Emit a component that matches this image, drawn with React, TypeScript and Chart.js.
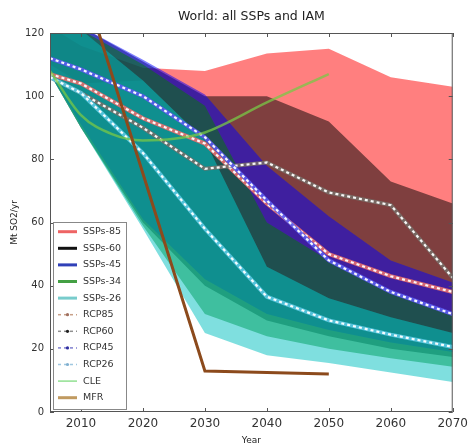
import React, { useEffect, useRef } from "react";
import { Chart, registerables } from "chart.js";

Chart.register(...registerables);

// Sample years shared by the SSP envelopes and RCP pathways
const years = [2005, 2010, 2020, 2030, 2040, 2050, 2060, 2070];
const xTicks = [2010, 2020, 2030, 2040, 2050, 2060, 2070];
const yTicks = [0, 20, 40, 60, 80, 100, 120];

// SSP envelopes (min / max across scenarios), Mt SO2/yr
const ssp85Low = [110, 104, 105, 86, 46, 36, 30, 25];
const ssp85High = [122, 116, 109, 108, 113.5, 115, 106, 103];
const ssp60Low = [107, 90, 60, 40, 29, 24, 20, 17.4];
const ssp60High = [125, 122, 111, 100, 100, 92, 73, 66];
const ssp45Low = [107, 91, 61, 42, 31, 26, 22, 19];
const ssp45High = [125, 122, 111.5, 100.5, 78, 62, 48, 41];
const ssp34Low = [107, 90, 59, 31, 24, 20, 17, 14.3];
const ssp34High = [125, 121, 110, 97, 60, 48, 38, 31];
const ssp26Low = [107, 90, 58, 25, 18, 15.5, 12.5, 9.5];
const ssp26High = [125, 121, 105, 86, 46, 36, 30, 25];

// RCP pathways
const rcp85 = [107, 104, 93, 85, 66, 50, 43, 38];
const rcp60 = [106, 101, 90, 77, 79, 69.5, 65.5, 42.5];
const rcp45 = [112, 108.5, 100, 87, 67, 48, 38, 31];
const rcp26 = [106, 101, 82, 58, 36.5, 29, 24.5, 20.6];

// IAM scenarios
const cleYears = [2005, 2010, 2015, 2020, 2025, 2030, 2040, 2050];
const cle = [108, 94, 88, 86, 86.5, 88.5, 98, 107];
const mfrYears = [2010, 2030, 2040, 2050];
const mfr = [138, 13, 12.5, 12];

const legendLabels = [
  "SSPs-85",
  "SSPs-60",
  "SSPs-45",
  "SSPs-34",
  "SSPs-26",
  "RCP85",
  "RCP60",
  "RCP45",
  "RCP26",
  "CLE",
  "MFR",
];

const FONT = '"DejaVu Sans", "Liberation Sans", sans-serif';

const pts = (xs: number[], ys: number[]) => xs.map((x, i) => ({ x, y: ys[i] }));

type LegendStyle = { color: string; width: number; dash?: number[]; dot?: string };
const legendStyles: LegendStyle[] = [
  { color: "#ee6464", width: 3 },
  { color: "#111111", width: 3 },
  { color: "#3040b8", width: 3 },
  { color: "#44a044", width: 3 },
  { color: "#78cccc", width: 3 },
  { color: "#c8a088", width: 1.5, dash: [3, 3], dot: "#a07060" },
  { color: "#909090", width: 1.5, dash: [3, 3], dot: "#202020" },
  { color: "#8080d0", width: 1.5, dash: [3, 3], dot: "#3030a0" },
  { color: "#a0c8e0", width: 1.5, dash: [3, 3], dot: "#80b0d0" },
  { color: "#90e090", width: 1.5 },
  { color: "#c09a60", width: 3 },
];

const decorations = {
  id: "decorations",
  afterDraw(chart: any) {
    const { ctx, chartArea: a, scales } = chart;
    ctx.save();

    // axes frame
    ctx.strokeStyle = "#555";
    ctx.lineWidth = 1;
    ctx.strokeRect(a.left + 0.5, a.top + 0.5, a.right - a.left - 1, a.bottom - a.top - 1);

    // inward tick marks on all four sides
    ctx.beginPath();
    xTicks.forEach((v) => {
      const px = Math.round(scales.x.getPixelForValue(v)) + 0.5;
      ctx.moveTo(px, a.bottom);
      ctx.lineTo(px, a.bottom - 4);
      ctx.moveTo(px, a.top);
      ctx.lineTo(px, a.top + 4);
    });
    yTicks.forEach((v) => {
      const py = Math.round(scales.y.getPixelForValue(v)) + 0.5;
      ctx.moveTo(a.left, py);
      ctx.lineTo(a.left + 4, py);
      ctx.moveTo(a.right, py);
      ctx.lineTo(a.right - 4, py);
    });
    ctx.stroke();

    // title and axis titles
    const cx = (a.left + a.right) / 2;
    ctx.fillStyle = "#222";
    ctx.textAlign = "center";
    ctx.textBaseline = "middle";
    ctx.font = `12.5px ${FONT}`;
    ctx.fillText("World: all SSPs and IAM", cx, 17);
    ctx.font = `9px ${FONT}`;
    ctx.fillText("Year", cx, 441);
    ctx.save();
    ctx.translate(15, (a.top + a.bottom) / 2);
    ctx.rotate(-Math.PI / 2);
    ctx.fillText("Mt SO2/yr", 0, 0);
    ctx.restore();

    // legend
    const lx = 53.5;
    const ly = 222.5;
    const lw = 73;
    const lh = 187;
    ctx.fillStyle = "#fff";
    ctx.fillRect(lx, ly, lw, lh);
    ctx.strokeStyle = "#888";
    ctx.lineWidth = 1;
    ctx.strokeRect(lx, ly, lw, lh);
    ctx.textAlign = "left";
    ctx.font = `9.5px ${FONT}`;
    legendLabels.forEach((label, i) => {
      const y = 231.7 + i * 16.6;
      const st = legendStyles[i];
      ctx.save();
      ctx.strokeStyle = st.color;
      ctx.lineWidth = st.width;
      ctx.setLineDash(st.dash || []);
      ctx.beginPath();
      ctx.moveTo(58, y);
      ctx.lineTo(77, y);
      ctx.stroke();
      if (st.dot) {
        ctx.fillStyle = st.dot;
        ctx.beginPath();
        ctx.arc(67.5, y, 1.6, 0, Math.PI * 2);
        ctx.fill();
      }
      ctx.restore();
      ctx.fillStyle = "#333";
      ctx.fillText(label, 83, y);
    });

    ctx.restore();
  },
};

export default function App() {
  const ref = useRef<HTMLCanvasElement>(null);

  useEffect(() => {
    const datasets: any[] = [];

    const addBand = (label: string, low: number[], high: number[], fill: string, order: number) => {
      const lowIndex = datasets.length;
      datasets.push({
        label: label + " min",
        data: pts(years, low),
        borderWidth: 0,
        borderColor: "rgba(0,0,0,0)",
        pointRadius: 0,
        fill: false,
        order,
        clip: 0,
      });
      datasets.push({
        label,
        data: pts(years, high),
        borderWidth: 0,
        borderColor: "rgba(0,0,0,0)",
        backgroundColor: fill,
        pointRadius: 0,
        fill: { target: lowIndex },
        order,
        clip: 0,
      });
    };

    addBand("SSPs-85", ssp85Low, ssp85High, "rgba(255,0,0,0.5)", 100);
    addBand("SSPs-60", ssp60Low, ssp60High, "rgba(0,0,0,0.5)", 90);
    addBand("SSPs-45", ssp45Low, ssp45High, "rgba(0,0,255,0.5)", 80);
    addBand("SSPs-34", ssp34Low, ssp34High, "rgba(0,128,0,0.5)", 70);
    addBand("SSPs-26", ssp26Low, ssp26High, "rgba(0,191,191,0.5)", 60);

    const addRcp = (label: string, values: number[], edge: string, order: number) => {
      datasets.push({
        label: label + " edge",
        data: pts(years, values),
        borderColor: edge,
        borderWidth: 4,
        pointRadius: 0,
        fill: false,
        order: order + 1,
        clip: 0,
      });
      datasets.push({
        label,
        data: pts(years, values),
        borderColor: "rgba(255,255,255,0.95)",
        borderWidth: 2.2,
        borderDash: [3, 3],
        borderCapStyle: "butt",
        pointRadius: 0,
        fill: false,
        order,
        clip: 0,
      });
    };

    addRcp("RCP85", rcp85, "rgba(230,110,110,0.9)", 48);
    addRcp("RCP60", rcp60, "rgba(120,110,105,0.85)", 46);
    addRcp("RCP45", rcp45, "rgba(90,90,240,0.9)", 44);
    addRcp("RCP26", rcp26, "rgba(90,200,225,0.9)", 42);

    datasets.push({
      label: "CLE",
      data: pts(cleYears, cle),
      borderColor: "rgba(120,200,70,0.75)",
      borderWidth: 2.5,
      cubicInterpolationMode: "monotone",
      pointRadius: 0,
      fill: false,
      order: 20,
      clip: 0,
    });
    datasets.push({
      label: "MFR",
      data: pts(mfrYears, mfr),
      borderColor: "#8c4a1c",
      borderWidth: 3,
      pointRadius: 0,
      fill: false,
      order: 10,
      clip: 0,
    });

    const chart = new Chart(ref.current as HTMLCanvasElement, {
      type: "line",
      data: { datasets },
      options: {
        animation: false,
        responsive: false,
        devicePixelRatio: 1,
        layout: { padding: { left: 0, top: 33, right: 13, bottom: 0 } },
        plugins: {
          legend: { display: false },
          tooltip: { enabled: false },
          title: { display: false },
        },
        elements: { line: { tension: 0 } },
        scales: {
          x: {
            type: "linear",
            min: 2005,
            max: 2070,
            grid: { display: false, drawTicks: false },
            border: { display: false },
            afterBuildTicks: (scale: any) => {
              scale.ticks = xTicks.map((v) => ({ value: v }));
            },
            afterFit: (scale: any) => {
              scale.height = 31;
            },
            ticks: {
              autoSkip: false,
              maxRotation: 0,
              padding: 5,
              color: "#333",
              font: { family: FONT, size: 12 },
              callback: (v: any) => String(v),
            },
          },
          y: {
            type: "linear",
            min: 0,
            max: 120,
            grid: { display: false, drawTicks: false },
            border: { display: false },
            afterBuildTicks: (scale: any) => {
              scale.ticks = yTicks.map((v) => ({ value: v }));
            },
            afterFit: (scale: any) => {
              scale.width = 50;
            },
            ticks: {
              padding: 6,
              color: "#333",
              font: { family: FONT, size: 10 },
              callback: (v: any) => String(v),
            },
          },
        },
      },
      plugins: [decorations],
    });

    return () => chart.destroy();
  }, []);

  return (
    <div style={{ position: "fixed", left: 0, top: 0, width: 473, height: 443, background: "#fff" }}>
      <canvas ref={ref} width={473} height={443} style={{ display: "block" }} />
    </div>
  );
}
